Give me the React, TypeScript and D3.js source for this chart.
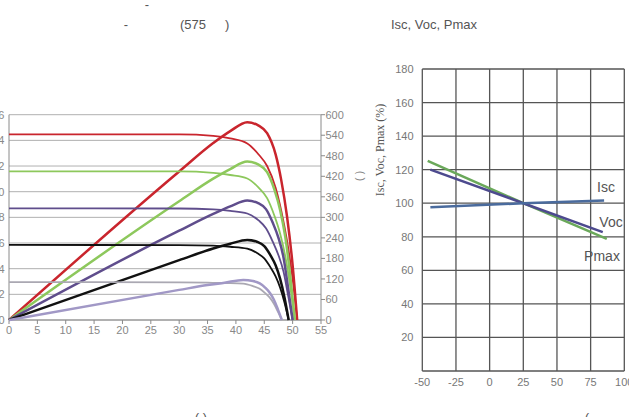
import React from "react";
import * as d3 from "d3";

// ---------- Left chart: I-V and P-V curves ----------
const xTicksV = [0, 5, 10, 15, 20, 25, 30, 35, 40, 45, 50, 55];
const yTicksI = [0, 2, 4, 6, 8, 10, 12, 14, 16];
const yTicksP = [0, 60, 120, 180, 240, 300, 360, 420, 480, 540, 600];

const redV = [0, 30, 36, 39, 42, 44, 45.5, 47, 48, 49, 50, 50.8];
const redI = [14.47, 14.46, 14.35, 14.15, 13.76, 12.9, 12.0, 10.3, 8.5, 6.2, 3.2, 0];
const redP = [0, 434, 517, 552, 578, 568, 546, 484, 408, 304, 160, 0];

const greenV = [0, 30, 36, 39, 42, 44, 45.5, 46.8, 47.8, 48.7, 49.6, 50.4];
const greenI = [11.59, 11.58, 11.47, 11.3, 11.03, 10.32, 9.5, 8.11, 6.72, 4.98, 2.55, 0];
const greenP = [0, 347, 413, 441, 463, 454, 432, 380, 321, 243, 126, 0];

const purpleV = [0, 30, 36, 39, 42, 44, 45.3, 46.5, 47.5, 48.4, 49.2, 50.0];
const purpleI = [8.7, 8.69, 8.62, 8.5, 8.3, 7.76, 7.15, 6.1, 5.05, 3.75, 1.92, 0];
const purpleP = [0, 261, 310, 332, 349, 341, 324, 284, 240, 182, 94, 0];

const blackV = [0, 30, 36, 39, 42, 43.8, 45, 46.1, 47, 47.8, 48.6, 49.3];
const blackI = [5.85, 5.84, 5.8, 5.71, 5.56, 5.2, 4.8, 4.1, 3.4, 2.52, 1.3, 0];
const blackP = [0, 175, 209, 223, 234, 228, 216, 189, 160, 120, 63, 0];

const lavV = [0, 30, 35, 38, 41.3, 43, 44.2, 45.2, 46, 46.7, 47.4, 48.1];
const lavI = [2.95, 2.94, 2.92, 2.88, 2.83, 2.64, 2.43, 2.07, 1.72, 1.27, 0.65, 0];
const lavP = [0, 88, 102, 109, 117, 114, 107, 94, 79, 59, 31, 0];

const curveSets = [
  { v: redV, i: redI, p: redP, ivColor: "#c9252d", pvColor: "#c9252d" },
  { v: greenV, i: greenI, p: greenP, ivColor: "#8dc85c", pvColor: "#8dc85c" },
  { v: purpleV, i: purpleI, p: purpleP, ivColor: "#5f4d8c", pvColor: "#5f4d8c" },
  { v: blackV, i: blackI, p: blackP, ivColor: "#111111", pvColor: "#111111" },
  { v: lavV, i: lavI, p: lavP, ivColor: "#aaa8b2", pvColor: "#a198c6" },
];

// ---------- Right chart: temperature coefficients ----------
const xTicksT = [-50, -25, 0, 25, 50, 75, 100];
const yTicksPct = [0, 20, 40, 60, 80, 100, 120, 140, 160, 180];
const iscT = [-44, 25, 85];
const iscVal = [97.6, 100, 101.6];
const vocT = [-44, 25, 84];
const vocVal = [120, 100, 82.8];
const pmaxT = [-46, 25, 87];
const pmaxVal = [125.2, 100, 78.8];

const FONT = "'Liberation Sans', Arial, sans-serif";

export default function App() {
  const xV = d3.scaleLinear().domain([0, 55]).range([9, 321]);
  const yI = d3.scaleLinear().domain([0, 16]).range([320, 114.7]);
  const yP = d3.scaleLinear().domain([0, 600]).range([320, 114.7]);

  const xT = d3.scaleLinear().domain([-50, 100]).range([422.3, 624.3]);
  const yPct = d3.scaleLinear().domain([0, 180]).range([371, 69]);

  const lineIV = (v: number[], i: number[]) =>
    d3.line<number>().x((_, k) => xV(v[k])).y((_, k) => yI(i[k])).curve(d3.curveMonotoneX)(v) || "";
  const linePV = (v: number[], p: number[]) =>
    d3.line<number>().x((_, k) => xV(v[k])).y((_, k) => yP(p[k])).curve(d3.curveMonotoneX)(v) || "";
  const lineT = (t: number[], val: number[]) =>
    d3.line<number>().x((_, k) => xT(t[k])).y((_, k) => yPct(val[k]))(t) || "";

  return (
    <svg width={629} height={417} style={{ position: "absolute", left: 0, top: 0, background: "#fff" }} fontFamily={FONT}>
      {/* Titles */}
      <text x={147} y={9} fontSize={13} fill="#555" textAnchor="middle">-</text>
      <text x={126} y={29} fontSize={13} fill="#555" textAnchor="middle">-</text>
      <text x={180} y={29} fontSize={13} fill="#555">(575</text>
      <text x={225} y={29} fontSize={13} fill="#555">)</text>
      <text x={434} y={29} fontSize={13} fill="#555" textAnchor="middle">Isc, Voc, Pmax</text>

      {/* Left chart grid */}
      {yTicksI.map((t) => (
        <line key={"gi" + t} x1={xV(0)} x2={xV(55)} y1={yI(t)} y2={yI(t)} stroke="#b0b0b0" strokeWidth={1} />
      ))}
      {/* axes */}
      <line x1={xV(0)} x2={xV(0)} y1={yI(0)} y2={yI(16)} stroke="#8a8a8a" strokeWidth={1} />
      <line x1={xV(55)} x2={xV(55)} y1={yP(0)} y2={yP(600)} stroke="#8a8a8a" strokeWidth={1} />
      <line x1={xV(0)} x2={xV(55)} y1={yI(0)} y2={yI(0)} stroke="#8a8a8a" strokeWidth={1} />
      {xTicksV.map((t) => (
        <g key={"xv" + t}>
          <line x1={xV(t)} x2={xV(t)} y1={320} y2={324} stroke="#8a8a8a" />
          <text x={xV(t)} y={334} fontSize={11} fill="#888" textAnchor="middle">{t}</text>
        </g>
      ))}
      {yTicksI.map((t) => (
        <text key={"yi" + t} x={4.5} y={yI(t) + 4} fontSize={11} fill="#888" textAnchor="end">{t}</text>
      ))}
      {yTicksP.map((t) => (
        <g key={"yp" + t}>
          <line x1={321} x2={325} y1={yP(t)} y2={yP(t)} stroke="#8a8a8a" />
          <text x={325.5} y={yP(t) + 4} fontSize={11} fill="#888">{t}</text>
        </g>
      ))}
      <text transform="translate(357,176) rotate(90)" fontSize={11} fill="#888" textAnchor="middle">(  )</text>

      {/* curves */}
      {curveSets.map((c, k) => (
        <g key={"c" + k}>
          <path d={lineIV(c.v, c.i)} fill="none" stroke={c.ivColor} strokeWidth={1.8} />
          <path d={linePV(c.v, c.p)} fill="none" stroke={c.pvColor} strokeWidth={2.5} />
        </g>
      ))}

      {/* Right chart grid */}
      {yTicksPct.map((t) => (
        <line key={"gp" + t} x1={xT(-50)} x2={xT(100)} y1={yPct(t)} y2={yPct(t)} stroke="#555" strokeWidth={1.3} />
      ))}
      {xTicksT.map((t) => (
        <line key={"gt" + t} x1={xT(t)} x2={xT(t)} y1={yPct(0)} y2={yPct(180)} stroke="#555" strokeWidth={1.3} />
      ))}
      {yTicksPct.filter((t) => t > 0).map((t) => (
        <text key={"ypt" + t} x={413.5} y={yPct(t) + 4} fontSize={11} fill="#777" textAnchor="end">{t}</text>
      ))}
      {xTicksT.map((t) => (
        <text key={"xtt" + t} x={xT(t)} y={386} fontSize={11} fill="#777" textAnchor="middle">{t}</text>
      ))}
      <text transform="translate(384,150) rotate(-90)" fontSize={12} fill="#555" textAnchor="middle"
        fontFamily="'Liberation Serif', 'Times New Roman', serif">Isc, Voc, Pmax (%)</text>

      <path d={lineT(pmaxT, pmaxVal)} fill="none" stroke="#6aa85a" strokeWidth={2.5} />
      <path d={lineT(vocT, vocVal)} fill="none" stroke="#4d4a8e" strokeWidth={2.5} />
      <path d={lineT(iscT, iscVal)} fill="none" stroke="#4a6b9d" strokeWidth={2.5} />

      <text x={606} y={192} fontSize={14} fill="#555" textAnchor="middle">Isc</text>
      <text x={611} y={227} fontSize={14} fill="#555" textAnchor="middle">Voc</text>
      <text x={602} y={261} fontSize={14} fill="#555" textAnchor="middle">Pmax</text>

      {/* bottom captions */}
      <text x={201} y={422} fontSize={13} fill="#555" textAnchor="middle">( )</text>
      <text x={587} y={422} fontSize={13} fill="#555" textAnchor="middle">(</text>
    </svg>
  );
}
